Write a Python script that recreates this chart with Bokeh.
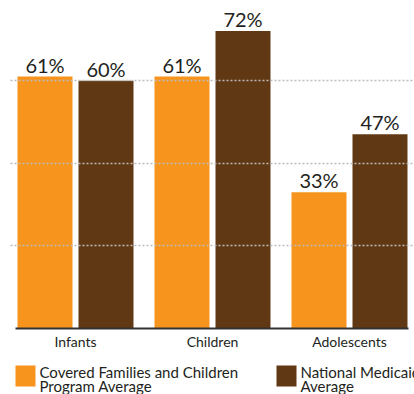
from bokeh.plotting import figure
from bokeh.layouts import column
from bokeh.models import (ColumnDataSource, Range1d, FixedTicker, Grid, LinearAxis)
from bokeh.core.properties import value
from bokeh.embed import file_html
from bokeh.resources import INLINE

categories = ["Infants", "Children", "Adolescents"]
cfc_avg = [61, 61, 33]
medicaid_avg = [60, 72, 47]
series_names = [["Covered Families and Children", "Program Average"],
                ["National Medicaid", "Average"]]
grid_ticks = [20, 40, 60]

ORANGE = "#F7941D"
BROWN = "#603813"
TXT = "#231F20"
FONT = "Lato"

pos = [i + 0.5 for i in range(len(categories))]
off = 0.2226
bw = 0.4015

src = ColumnDataSource(dict(
    x1=[p - off for p in pos], x2=[p + off for p in pos],
    a=cfc_avg, b=medicaid_avg,
    la=[f"{v}%" for v in cfc_avg], lb=[f"{v}%" for v in medicaid_avg],
))

p = figure(width=414, height=356, output_backend="svg",
           toolbar_location=None, x_range=Range1d(0.02555, 2.97445),
           y_range=Range1d(0, 79.4), y_axis_location=None, x_axis_location=None,
           min_border_left=10, min_border_right=0, min_border_top=0,
           min_border_bottom=28)
p.outline_line_color = None
p.background_fill_color = "white"
p.border_fill_color = "white"
for g in list(p.grid):
    g.visible = False

p.vbar(x="x1", top="a", width=bw, bottom=0, source=src, fill_color=ORANGE, line_color=None)
p.vbar(x="x2", top="b", width=bw, bottom=0, source=src, fill_color=BROWN, line_color=None)

for xc, yc, lc in (("x1", "a", "la"), ("x2", "b", "lb")):
    p.text(x=xc, y=yc, text=lc, source=src, text_align="center",
           text_baseline="bottom", y_offset=0, text_font=value(FONT),
           text_font_size="20px", text_color=TXT)

grid = Grid(dimension=1, ticker=FixedTicker(ticks=grid_ticks),
            grid_line_color="#bbbbbb", grid_line_width=1.6,
            grid_line_dash="2 2", level="overlay")
p.add_layout(grid)

xax = LinearAxis(ticker=FixedTicker(ticks=pos),
                 major_label_overrides={p_: c for p_, c in zip(pos, categories)})
xax.bounds = (0.062, 2.9307)
xax.axis_line_color = "#333333"
xax.axis_line_width = 2
xax.major_tick_line_color = None
xax.minor_tick_line_color = None
xax.major_tick_out = 0
xax.major_tick_in = 0
xax.minor_tick_out = 0
xax.minor_tick_in = 0
xax.major_label_standoff = 4
xax.major_label_text_font = FONT
xax.major_label_text_font_size = "14px"
xax.major_label_text_color = TXT
p.add_layout(xax, "below")

# legend strip (pixel coordinates; frame aligned with main frame, starting at 10)
leg = figure(width=414, height=38, output_backend="svg", toolbar_location=None,
             x_range=Range1d(10, 414), y_range=Range1d(0, 38),
             x_axis_location=None, y_axis_location=None,
             min_border=0, min_border_left=10, min_border_right=0,
             min_border_top=0, min_border_bottom=0)
leg.outline_line_color = None
leg.border_fill_color = "white"
for g in list(leg.grid):
    g.visible = False

sw_x = [15, 276]
colors = [ORANGE, BROWN]
leg.quad(left=sw_x, right=[x + 20 for x in sw_x], bottom=[8, 8], top=[29, 29],
         fill_color=colors, line_color=None)
leg.text(x=[x + 24 for x in sw_x], y=[14, 14], text=[s[0] for s in series_names],
         text_align="left", text_baseline="bottom", text_font=value(FONT),
         text_font_size="15px", text_color=TXT)
leg.text(x=[x + 24 for x in sw_x], y=[0, 0], text=[s[1] for s in series_names],
         text_align="left", text_baseline="bottom", text_font=value(FONT),
         text_font_size="15px", text_color=TXT)

layout = column(p, leg, spacing=0)
open("out.html", "w").write(file_html(layout, INLINE))
